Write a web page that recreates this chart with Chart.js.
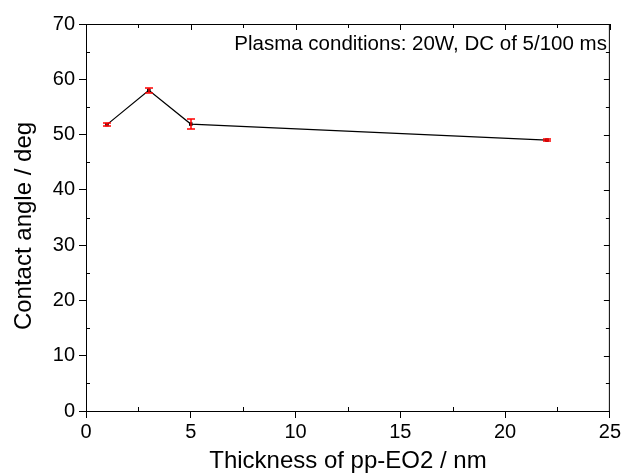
<!DOCTYPE html>
<html>
<head>
<meta charset="utf-8">
<script src="https://cdn.jsdelivr.net/npm/chart.js@4/dist/chart.umd.min.js"></script>
<style>
  html, body { margin: 0; padding: 0; background: #fff; }
  #wrap { width: 623px; height: 473px; }
</style>
</head>
<body>
<div id="wrap"><canvas id="myChart" width="623" height="473"></canvas></div>
<script>
// data
const thickness = [1, 3, 5, 22];
const contactAngle = [51.8, 58.0, 51.9, 49.0];
const angleError = [0.3, 0.45, 0.85, 0.2];
const xTicks = [0, 5, 10, 15, 20, 25];
const yTicks = [0, 10, 20, 30, 40, 50, 60, 70];
const xTitle = 'Thickness of pp-EO2 / nm';
const yTitle = 'Contact angle / deg';
const note = 'Plasma conditions: 20W, DC of 5/100 ms';

const FONT = '"Liberation Sans", Arial, Helvetica, sans-serif';

// minor ticks, top/right frame, error bars, titles and the note
const extras = {
    id: 'extras',
    afterDatasetsDraw(chart) {
        const { ctx, chartArea: a, scales: { x, y } } = chart;
        ctx.save();
        ctx.strokeStyle = '#000';
        ctx.lineWidth = 1;
        ctx.beginPath();
        // top and right frame
        ctx.moveTo(a.left, a.top + 0.5); ctx.lineTo(a.right, a.top + 0.5);
        ctx.moveTo(a.right - 0.5, a.top); ctx.lineTo(a.right - 0.5, a.bottom);
        for (let v = 0; v <= 25; v += 2.5) {
            const px = Math.round(x.getPixelForValue(v)) + 0.5;
            const major = v % 5 === 0;
            if (!major) { ctx.moveTo(px, a.bottom); ctx.lineTo(px, a.bottom - 4); }
            ctx.moveTo(px, a.top); ctx.lineTo(px, a.top + (major ? 6 : 4));
        }
        for (let v = 0; v <= 70; v += 5) {
            const py = Math.round(y.getPixelForValue(v)) + 0.5;
            const major = v % 10 === 0;
            if (!major) { ctx.moveTo(a.left, py); ctx.lineTo(a.left + 4, py); }
            ctx.moveTo(a.right, py); ctx.lineTo(a.right - (major ? 6 : 4), py);
        }
        ctx.stroke();

        // error bars
        ctx.strokeStyle = '#ff0000';
        ctx.lineWidth = 1.5;
        ctx.beginPath();
        thickness.forEach((t, i) => {
            const px = Math.round(x.getPixelForValue(t));
            const lo = Math.round(y.getPixelForValue(contactAngle[i] - angleError[i]));
            const hi = Math.round(y.getPixelForValue(contactAngle[i] + angleError[i]));
            ctx.moveTo(px, lo); ctx.lineTo(px, hi);
            ctx.moveTo(px - 4, lo); ctx.lineTo(px + 4, lo);
            ctx.moveTo(px - 4, hi); ctx.lineTo(px + 4, hi);
        });
        ctx.stroke();

        // note in the corner
        ctx.fillStyle = '#000';
        ctx.font = '20.5px ' + FONT;
        ctx.textAlign = 'right';
        ctx.textBaseline = 'alphabetic';
        ctx.fillText(note, a.right - 3, a.top + 26);

        // x axis title
        ctx.font = '24px ' + FONT;
        ctx.textAlign = 'center';
        ctx.fillText(xTitle, (a.left + a.right) / 2, 468);

        // y axis title
        ctx.translate(31, 226);
        ctx.rotate(-Math.PI / 2);
        ctx.fillText(yTitle, 0, 0);
        ctx.restore();
    }
};

new Chart(document.getElementById('myChart').getContext('2d'), {
    type: 'scatter',
    data: {
        datasets: [{
            data: thickness.map((t, i) => ({ x: t, y: contactAngle[i] })),
            showLine: true,
            borderColor: '#000',
            borderWidth: 1.2,
            backgroundColor: '#000',
            pointStyle: 'rect',
            pointRadius: 2.5,
            pointBorderWidth: 0
        }]
    },
    options: {
        responsive: false,
        animation: false,
        layout: { padding: { top: 24, right: 12, left: 0, bottom: 0 } },
        plugins: { legend: { display: false }, tooltip: { enabled: false } },
        scales: {
            x: {
                type: 'linear',
                min: 0, max: 25,
                afterBuildTicks: s => { s.ticks = xTicks.map(v => ({ value: v })); },
                afterFit: s => { s.height = 62; },
                grid: { display: true, drawOnChartArea: false, tickLength: 7, color: '#000' },
                border: { display: true, color: '#000', width: 1 },
                ticks: { color: '#000', font: { family: FONT, size: 20 }, padding: 2, maxRotation: 0 }
            },
            y: {
                min: 0, max: 70,
                afterBuildTicks: s => { s.ticks = yTicks.map(v => ({ value: v })); },
                afterFit: s => { s.width = 86; },
                grid: { display: true, drawOnChartArea: false, tickLength: 7, color: '#000' },
                border: { display: true, color: '#000', width: 1 },
                ticks: { color: '#000', font: { family: FONT, size: 20 }, padding: 4 }
            }
        }
    },
    plugins: [extras]
});
</script>
</body>
</html>
